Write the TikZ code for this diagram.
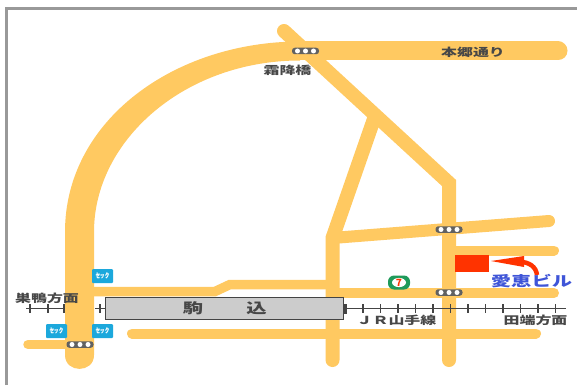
\documentclass[tikz,border=0pt]{standalone}
\usepackage{fontspec}
\newfontfamily\jp{Noto Sans CJK JP}
\usetikzlibrary{arrows.meta}
\definecolor{road}{HTML}{FFC961}
\definecolor{railc}{HTML}{444444}
\definecolor{metro}{HTML}{1CA8DC}
\definecolor{bldred}{HTML}{FF3300}
\definecolor{bluetxt}{HTML}{3F55D8}
\definecolor{segreen}{HTML}{1F9A5A}
\tikzset{
  x=1pt,y=-1pt,
  roadline/.style={draw=road,line cap=round,line join=miter,line width=#1},
  railline/.style={draw=railc,line width=1pt},
  tie/.style={draw=railc,line width=1.5pt},
  lbl/.style={text=black!72,inner sep=0pt,font=\jp\bfseries},
  sig/.style={fill=black!62,rounded corners=2.8pt,minimum width=27pt,minimum height=6.5pt,inner sep=0pt},
  metroicon/.style={fill=metro,rounded corners=1pt,minimum width=21pt,minimum height=14pt,inner sep=0pt,text=white,font=\jp\bfseries},
}
\newcommand{\wide}[3]{\scalebox{#1}[1]{\fontsize{#2}{#2}\selectfont #3}}
\newcommand{\signal}[2]{%
  \node[sig] at (#1,#2) {};
  \foreach \dx in {-8,0,8} \fill[white] (#1+\dx,#2) circle (2.5pt);}
\begin{document}
\begin{tikzpicture}
\useasboundingbox (0,0) rectangle (577,385);
\fill[white] (0,0) rectangle (577,385);
% border
\coordinate (bl) at (6.5,385);
\coordinate (tl) at (6.5,8.5);
\coordinate (tr) at (577,8.5);
\draw[black!40,line width=2.5pt] (bl) -- (tl) -- (tr);
% main tapered road
\fill[road] (65,355) -- (65,232) .. controls (65,120) and (175,41.5) .. (300,41.5)
  -- (300,60.5)
  .. controls (185,60.5) and (94,140) .. (94,232) -- (94,355)
  .. controls (94,373.5) and (65,373.5) .. (65,355) -- cycle;
\coordinate (h1) at (295,51);
\coordinate (h2) at (558,51);
\draw[roadline=19] (h1) -- (h2);
% other roads
\coordinate (dA) at (284,31);
\coordinate (dB) at (449,183);
\coordinate (dC) at (449,360);
\draw[roadline=14] (dA) -- (dB) -- (dC);
\coordinate (vA) at (332.5,238);
\coordinate (vB) at (332.5,360);
\coordinate (vC) at (375,116);
\draw[roadline=14] (vC) -- (vA) -- (vB);
\coordinate (e1) at (549,221);
\draw[roadline=12] (vA) -- (e1);
\coordinate (s1) at (449,250.5);
\coordinate (s2) at (554,250.5);
\draw[roadline=10] (s1) -- (s2);
\coordinate (u1) at (333,293);
\coordinate (u2) at (554,293);
\draw[roadline=10] (u1) -- (u2);
\coordinate (w1) at (132,333.5);
\coordinate (w2) at (536,333.5);
\draw[roadline=10] (w1) -- (w2);
\coordinate (b1) at (79,291.5);
\coordinate (b2) at (215,291.5);
\coordinate (b3) at (230,284.5);
\coordinate (b4) at (333,284.5);
\draw[roadline=9.5,line cap=butt] (b1) -- (b2) -- (b3) -- (b4);
\coordinate (l1) at (28,344.5);
\coordinate (l2) at (79,344.5);
\draw[roadline=9.5] (l1) -- (l2);
% rail
\coordinate (r1) at (26,308.5);
\coordinate (r2) at (65,308.5);
\coordinate (r3) at (95,308.5);
\coordinate (r4) at (105,308.5);
\coordinate (r5) at (566,308.5);
\draw[railline] (r1) -- (r2);
\draw[railline] (r3) -- (r4);
\draw[railline] (r4) -- (r5);
\foreach \x in {30,48,64,100} \draw[tie] (\x,304) -- (\x,313);
\foreach \x in {363,380.5,398,415.5,433,450.5,468,485.5,503,520.5,538,555.5} \draw[tie] (\x,304) -- (\x,313);
% station
\node[draw=railc,fill=black!20,line width=1.7pt,minimum width=238pt,minimum height=22pt,inner sep=0pt] (stn) at (224.5,308.5) {};
\fill[railc] (344,303.5) rectangle (347,313.5);
\node[lbl] (st1) at (193,308.5) {\wide{1.45}{14}{駒}};
\node[lbl] (st2) at (256.5,308.5) {\wide{1.45}{14}{込}};
% signals
\signal{305.5}{51}
\signal{449}{229.5}
\signal{449}{292.5}
\signal{80}{344.5}
% labels
\node[lbl] (t1) at (47,298) {\wide{1.45}{11}{巣鴨方面}};
\node[lbl] (t2) at (287.5,70) {\wide{1.45}{11}{霜降橋}};
\node[lbl] (t3) at (473,52.5) {\wide{1.45}{11}{本郷通り}};
\node[lbl] (t4) at (396.5,320.5) {\wide{1.45}{11}{ＪＲ山手線}};
\node[lbl] (t5) at (535.5,320.5) {\wide{1.45}{11}{田端方面}};
% metro icons
\node[metroicon] (m1) at (102.5,276) {\wide{1.3}{7}{ｾｯｸ}};
\node[metroicon] (m2) at (56.5,331) {\wide{1.3}{7}{ｾｯｸ}};
\node[metroicon] (m3) at (102.5,331) {\wide{1.3}{7}{ｾｯｸ}};
% seven eleven
\node[fill=segreen,rounded corners=6pt,minimum width=22pt,minimum height=14pt,inner sep=0pt] (se) at (399,282.5) {};
\fill[white] (399,282.5) ellipse (7pt and 4.6pt);
\node[inner sep=0pt,text=bldred,font=\jp\bfseries] (se7) at (399,282.5) {\fontsize{10}{10}\selectfont 7};
% building
\node[fill=bldred,minimum width=34pt,minimum height=17pt,inner sep=0pt] (bld) at (472,263.5) {};
\coordinate (atip) at (491,261);
\coordinate (aend) at (537,275);
\draw[draw=bldred,line width=4.5pt] (aend) .. controls (536,267) and (530,262) .. (518,261.5);
\fill[bldred] (atip) -- (524,256) -- (524,267) -- cycle;
\node[inner sep=0pt,text=bluetxt,font=\jp\bfseries] (bn) at (531.5,281.5) {\wide{1.45}{14}{愛恵ビル}};
\end{tikzpicture}
\end{document}
